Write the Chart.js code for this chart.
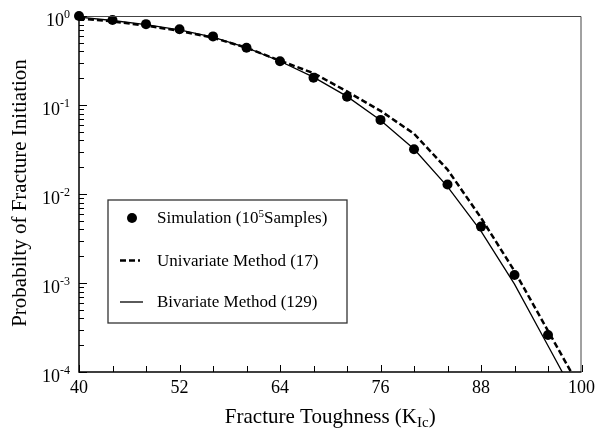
<!DOCTYPE html>
<html>
<head>
<meta charset="utf-8">
<script src="https://cdn.jsdelivr.net/npm/chart.js@4.4.0/dist/chart.umd.min.js"></script>
<style>
  html, body { margin: 0; padding: 0; background: #fff; }
  #wrap { width: 600px; height: 431px; }
</style>
</head>
<body>
<div id="wrap"><canvas id="fracChart" width="600" height="431"></canvas></div>
<script>
// fracture toughness values where the simulation was sampled
const toughness = [40, 44, 48, 52, 56, 60, 64, 68, 72, 76, 80, 84, 88, 92, 96];
const simulation = [1.0, 0.90, 0.81, 0.71, 0.59, 0.44, 0.31, 0.203, 0.124, 0.068, 0.0318, 0.0128, 0.0043, 0.00123, 0.00026];

// method curves (run one step past the axis, clipped at 1e-4)
const curveX = [40, 44, 48, 52, 56, 60, 64, 68, 72, 76, 80, 84, 88, 92, 96, 100];
const univariate = [0.94, 0.87, 0.78, 0.68, 0.57, 0.44, 0.315, 0.228, 0.142, 0.086, 0.0476, 0.0188, 0.0054, 0.00136, 0.00029, 0.000062];
const bivariate = [0.97, 0.89, 0.80, 0.70, 0.58, 0.44, 0.31, 0.206, 0.125, 0.0675, 0.032, 0.0121, 0.00383, 0.00097, 0.000197, 0.000040];

// axis ticks
const xTicks = [40, 44, 48, 52, 56, 60, 64, 68, 72, 76, 80, 84, 88, 92, 96, 100];
const xLabels = [40, 52, 64, 76, 88, 100];
const yDecades = [1, 0.1, 0.01, 0.001, 0.0001];
const yExponents = ['0', '-1', '-2', '-3', '-4'];

const legendLabels = ['Simulation (10^5Samples)', 'Univariate Method (17)', 'Bivariate Method (129)'];

const SERIF = '"Liberation Serif", "DejaVu Serif", serif';

const pairs = (xs, ys) => xs.map((x, i) => ({ x: x, y: ys[i] }));

// draws frame, inward ticks, superscript labels, titles and the boxed legend
const decorPlugin = {
  id: 'decor',
  afterDraw(chart) {
    const ctx = chart.ctx;
    const a = chart.chartArea;
    const xs = chart.scales.x, ys = chart.scales.y;
    ctx.save();

    // frame
    ctx.strokeStyle = '#444';
    ctx.lineWidth = 1;
    ctx.beginPath();
    ctx.moveTo(a.left, a.top + 0.5);
    ctx.lineTo(a.right - 0.5, a.top + 0.5);
    ctx.lineTo(a.right - 0.5, a.bottom);
    ctx.stroke();
    ctx.strokeStyle = '#000';
    ctx.lineWidth = 1.5;
    ctx.beginPath();
    ctx.moveTo(a.left, a.top);
    ctx.lineTo(a.left, a.bottom);
    ctx.lineTo(a.right, a.bottom);
    ctx.stroke();

    // x ticks (inward)
    ctx.lineWidth = 1;
    xTicks.forEach(v => {
      const px = Math.round(xs.getPixelForValue(v)) + 0.5;
      const len = xLabels.includes(v) ? 7 : 6;
      ctx.beginPath();
      ctx.moveTo(px, a.bottom);
      ctx.lineTo(px, a.bottom - len);
      ctx.stroke();
    });

    // y ticks (inward), majors + minors
    yDecades.forEach((d, i) => {
      const py = Math.round(ys.getPixelForValue(d)) + 0.5;
      ctx.beginPath();
      ctx.moveTo(a.left, py);
      ctx.lineTo(a.left + 8, py);
      ctx.stroke();
      if (i > 0) {
        for (let m = 2; m <= 9; m++) {
          const my = Math.round(ys.getPixelForValue(d * m)) + 0.5;
          ctx.beginPath();
          ctx.moveTo(a.left, my);
          ctx.lineTo(a.left + 5, my);
          ctx.stroke();
        }
      }
    });

    // y labels 10^n
    ctx.fillStyle = '#000';
    yDecades.forEach((d, i) => {
      const py = ys.getPixelForValue(d);
      ctx.font = '12px ' + SERIF;
      const ew = ctx.measureText(yExponents[i]).width;
      const right = 70;
      ctx.textAlign = 'left';
      ctx.textBaseline = 'alphabetic';
      ctx.fillText(yExponents[i], right - ew, py + 2);
      ctx.font = '18px ' + SERIF;
      ctx.textAlign = 'right';
      ctx.fillText('10', right - ew, py + 10);
    });

    // y title
    ctx.save();
    ctx.translate(20, (a.top + a.bottom) / 2 - 1);
    ctx.rotate(-Math.PI / 2);
    ctx.font = '21px ' + SERIF;
    ctx.textAlign = 'center';
    ctx.textBaseline = 'middle';
    ctx.fillText('Probabilty of Fracture Initiation', 0, 0);
    ctx.restore();

    // x title with subscript
    ctx.textAlign = 'left';
    ctx.textBaseline = 'alphabetic';
    const p1 = 'Fracture Toughness (K', p2 = 'Ic', p3 = ')';
    ctx.font = '21px ' + SERIF;
    const w1 = ctx.measureText(p1).width, w3 = ctx.measureText(p3).width;
    ctx.font = '15px ' + SERIF;
    const w2 = ctx.measureText(p2).width;
    let tx = (a.left + a.right) / 2 - (w1 + w2 + w3) / 2;
    const base = 423;
    ctx.font = '21px ' + SERIF;
    ctx.fillText(p1, tx, base);
    ctx.font = '15px ' + SERIF;
    ctx.fillText(p2, tx + w1, base + 4);
    ctx.font = '21px ' + SERIF;
    ctx.fillText(p3, tx + w1 + w2, base);

    // legend box
    const lx = 108, ly = 200, lw = 239, lh = 123;
    ctx.fillStyle = '#fff';
    ctx.fillRect(lx, ly, lw, lh);
    ctx.strokeStyle = '#333';
    ctx.lineWidth = 1.3;
    ctx.strokeRect(lx, ly, lw, lh);

    const rows = [218, 260.5, 302];
    const ds = chart.data.datasets;
    ctx.fillStyle = '#000';
    ctx.beginPath();
    ctx.arc(132, rows[0], ds[0].pointRadius, 0, Math.PI * 2);
    ctx.fill();

    ctx.strokeStyle = '#000';
    ctx.lineWidth = ds[1].borderWidth;
    ctx.setLineDash(ds[1].borderDash);
    ctx.beginPath();
    ctx.moveTo(120, rows[1]);
    ctx.lineTo(140, rows[1]);
    ctx.stroke();
    ctx.setLineDash([]);
    ctx.lineWidth = ds[2].borderWidth;
    ctx.beginPath();
    ctx.moveTo(120, rows[2]);
    ctx.lineTo(143, rows[2]);
    ctx.stroke();

    ctx.textBaseline = 'middle';
    ctx.textAlign = 'left';
    const tx0 = 157;
    legendLabels.forEach((lab, i) => {
      const parts = lab.split('^');
      let cx = tx0;
      ctx.font = '17px ' + SERIF;
      if (parts.length === 1) {
        ctx.fillText(lab, cx, rows[i] + 1);
      } else {
        // "10^5Samples)" -> superscript the first char after ^
        ctx.fillText(parts[0], cx, rows[i] + 1);
        cx += ctx.measureText(parts[0]).width;
        ctx.font = '11px ' + SERIF;
        ctx.fillText(parts[1][0], cx, rows[i] - 4);
        cx += ctx.measureText(parts[1][0]).width;
        ctx.font = '17px ' + SERIF;
        ctx.fillText(parts[1].slice(1), cx, rows[i] + 1);
      }
    });

    ctx.restore();
  }
};

new Chart(document.getElementById('fracChart'), {
  type: 'line',
  data: {
    datasets: [
      {
        label: legendLabels[0],
        data: pairs(toughness, simulation),
        showLine: false,
        pointRadius: 5,
        pointBackgroundColor: '#000',
        pointBorderColor: '#000',
        pointBorderWidth: 0,
        borderWidth: 0,
        clip: 8
      },
      {
        label: legendLabels[1],
        data: pairs(curveX, univariate),
        borderColor: '#000',
        borderWidth: 2.5,
        borderDash: [6, 3],
        pointRadius: 0,
        tension: 0,
        fill: false,
        clip: { left: 2, top: 2, right: 0, bottom: 0 }
      },
      {
        label: legendLabels[2],
        data: pairs(curveX, bivariate),
        borderColor: '#000',
        borderWidth: 1.3,
        pointRadius: 0,
        tension: 0,
        fill: false,
        clip: { left: 2, top: 2, right: 0, bottom: 0 }
      }
    ]
  },
  options: {
    responsive: false,
    animation: false,
    layout: { padding: { top: 16, right: 11, left: 0, bottom: 0 } },
    plugins: {
      legend: { display: false },
      tooltip: { enabled: false }
    },
    scales: {
      x: {
        type: 'linear',
        min: 40,
        max: 100,
        grid: { display: false, drawTicks: false },
        border: { display: false },
        ticks: {
          stepSize: 4,
          autoSkip: false,
          maxRotation: 0,
          padding: 5,
          color: '#000',
          font: { family: SERIF, size: 18 },
          callback: v => (xLabels.includes(v) ? String(v) : '')
        },
        afterFit: s => { s.height = 59; }
      },
      y: {
        type: 'logarithmic',
        min: 0.0001,
        max: 1,
        grid: { display: false, drawTicks: false },
        border: { display: false },
        ticks: { display: false },
        afterFit: s => { s.width = 79; }
      }
    }
  },
  plugins: [decorPlugin]
});
</script>
</body>
</html>
